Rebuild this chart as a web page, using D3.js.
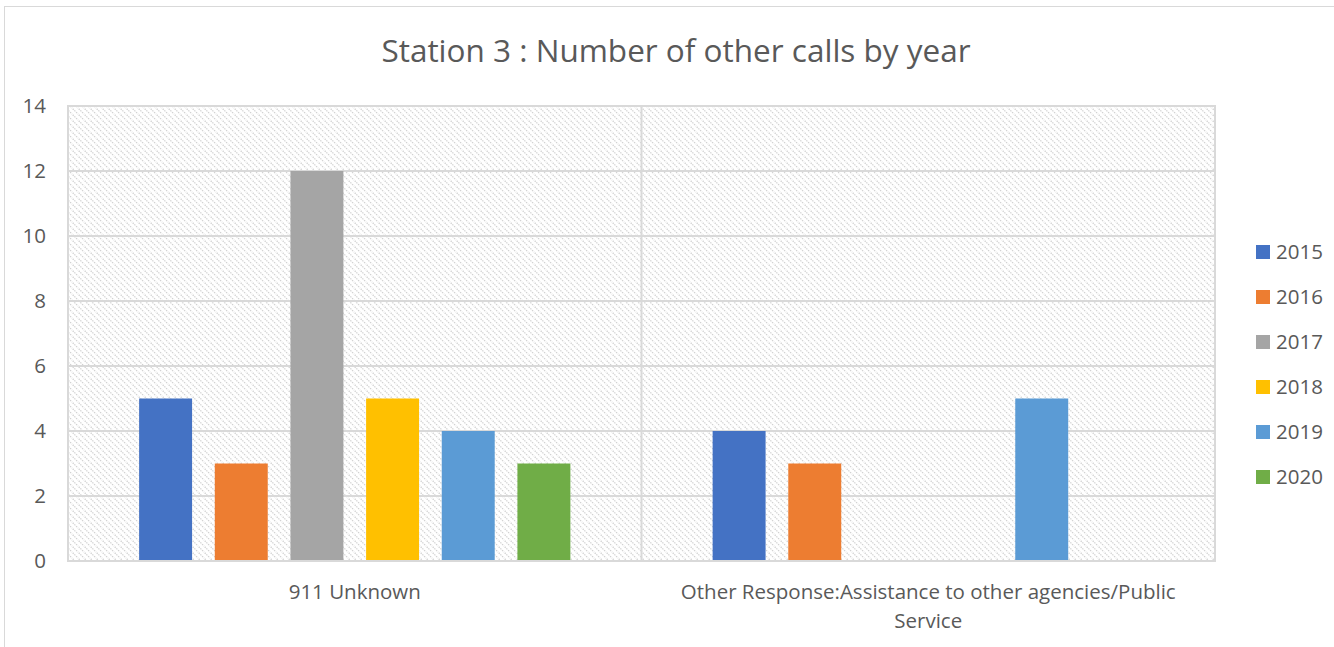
<!DOCTYPE html>
<html>
<head>
<meta charset="utf-8">
<script src="https://cdn.jsdelivr.net/npm/d3@7"></script>
<style>
  body { margin: 0; background: #fff; }
  svg { display: block; font-family: "Open Sans", sans-serif; }
</style>
</head>
<body>
<main></main>
<script>
const categories = ["911 Unknown", "Other Response:Assistance to other agencies/Public Service"]
const years = ["2015", "2016", "2017", "2018", "2019", "2020"]
const values2015 = [5, 4]
const values2016 = [3, 3]
const values2017 = [12, 0]
const values2018 = [5, 0]
const values2019 = [4, 5]
const values2020 = [3, 0]
const yTicks = [0, 2, 4, 6, 8, 10, 12, 14]
const colors = ["#4472C4", "#ED7D31", "#A5A5A5", "#FFC000", "#5B9BD5", "#70AD47"]

const series = [values2015, values2016, values2017, values2018, values2019, values2020]

const width = 1334
const height = 647
const margin = { top: 106, right: 119, bottom: 86, left: 68 }
const labelSize = 20.5

let svg = d3.select("main")
    .append("svg")
    .attr("width", width)
    .attr("height", height)

let defs = svg.append("defs")
let pat = defs.append("pattern")
    .attr("id", "hatch")
    .attr("patternUnits", "userSpaceOnUse")
    .attr("width", 6)
    .attr("height", 6)
pat.append("rect").attr("width", 6).attr("height", 6).attr("fill", "#fff")
pat.append("path")
    .attr("d", "M-1,-1 L7,7 M-1,5 L1,7 M5,-1 L7,1")
    .attr("stroke", "#d2d2d2")
    .attr("stroke-width", 1.3)
    .attr("stroke-dasharray", "1.4,1")

// chart border
svg.append("rect")
    .attr("x", 4.5).attr("y", 6.5)
    .attr("width", width + 20).attr("height", height + 20)
    .attr("fill", "none")
    .attr("stroke", "#d9d9d9")

let x0 = d3.scaleBand()
    .domain(categories)
    .range([margin.left, width - margin.right])

let x1 = d3.scaleBand()
    .domain(years)
    .range([0, x0.bandwidth()])
    .paddingInner(0.3)
    .paddingOuter(0.94)

let y = d3.scaleLinear()
    .domain([0, 14])
    .range([height - margin.bottom, margin.top])

// plot area with hatch
svg.append("rect")
    .attr("x", margin.left)
    .attr("y", y(14))
    .attr("width", width - margin.right - margin.left)
    .attr("height", y(0) - y(14))
    .attr("fill", "url(#hatch)")
    .attr("stroke", "#d9d9d9")
    .attr("stroke-width", 2)

// gridlines
svg.append("g")
    .selectAll("line")
    .data(yTicks)
    .enter().append("line")
    .attr("x1", margin.left)
    .attr("x2", width - margin.right)
    .attr("y1", d => y(d))
    .attr("y2", d => y(d))
    .attr("stroke", "#d9d9d9")
    .attr("stroke-width", 2)

// category divider
svg.append("line")
    .attr("x1", x0(categories[1]))
    .attr("x2", x0(categories[1]))
    .attr("y1", y(14))
    .attr("y2", y(0))
    .attr("stroke", "#d9d9d9")
    .attr("stroke-width", 2)

// y labels
svg.append("g")
    .selectAll("text")
    .data(yTicks)
    .enter().append("text")
    .attr("x", 46)
    .attr("y", d => y(d))
    .attr("dy", "0.35em")
    .attr("text-anchor", "end")
    .attr("font-size", labelSize)
    .attr("fill", "#595959")
    .text(d => d)

// bars
let groups = svg.append("g")
    .selectAll("g")
    .data(categories)
    .enter().append("g")
    .attr("transform", d => `translate(${x0(d)},0)`)

groups.selectAll("rect")
    .data((d, ci) => years.map((yr, i) => ({ yr, i, v: series[i][ci] })))
    .enter().append("rect")
    .attr("x", d => x1(d.yr))
    .attr("width", x1.bandwidth())
    .attr("y", d => y(d.v))
    .attr("height", d => y(0) - y(d.v))
    .attr("fill", d => colors[d.i])

// x axis line
svg.append("line")
    .attr("x1", margin.left)
    .attr("x2", width - margin.right)
    .attr("y1", y(0))
    .attr("y2", y(0))
    .attr("stroke", "#d9d9d9")
    .attr("stroke-width", 2)

// category labels with wrap
function wrapText(text, maxW) {
    text.each(function() {
        let t = d3.select(this)
        let words = t.text().split(/\s+/)
        let cx = t.attr("x")
        t.text(null)
        let line = []
        let tsp = t.append("tspan").attr("x", cx).attr("dy", 0)
        words.forEach(w => {
            line.push(w)
            tsp.text(line.join(" "))
            if (tsp.node().getComputedTextLength() > maxW && line.length > 1) {
                line.pop()
                tsp.text(line.join(" "))
                line = [w]
                tsp = t.append("tspan").attr("x", cx).attr("dy", 29).text(w)
            }
        })
    })
}

svg.append("g")
    .selectAll("text")
    .data(categories)
    .enter().append("text")
    .attr("x", d => x0(d) + x0.bandwidth() / 2)
    .attr("y", 599)
    .attr("text-anchor", "middle")
    .attr("font-size", labelSize)
    .attr("fill", "#595959")
    .text(d => d)
    .call(wrapText, 530)

// title
svg.append("text")
    .attr("x", 676)
    .attr("y", 62)
    .attr("text-anchor", "middle")
    .attr("font-size", 31.5)
    .attr("fill", "#595959")
    .text("Station 3 : Number of other calls by year")

// legend
let legend = svg.append("g")
years.forEach((yr, i) => {
    let g = legend.append("g").attr("transform", `translate(1256,${252 + i * 45})`)
    g.append("rect")
        .attr("x", 0).attr("y", -7)
        .attr("width", 14).attr("height", 14)
        .attr("fill", colors[i])
    g.append("text")
        .attr("x", 20).attr("y", 0)
        .attr("dy", "0.35em")
        .attr("font-size", labelSize)
        .attr("fill", "#595959")
        .text(yr)
})
</script>
</body>
</html>
